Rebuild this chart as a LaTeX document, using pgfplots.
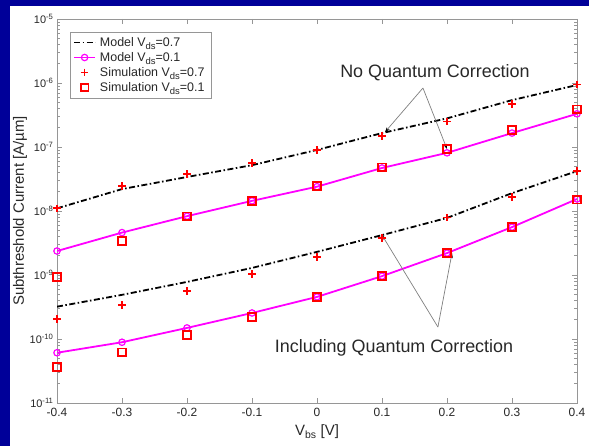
\documentclass[border=0pt]{standalone}
\usepackage{pgfplots}
\pgfplotsset{compat=1.18}
\usepackage{fontspec}
\setmainfont{Liberation Sans}
\usetikzlibrary{arrows.meta}
\definecolor{bgblue}{RGB}{0,0,153}
\definecolor{axgray}{RGB}{150,150,150}
\definecolor{txt}{RGB}{40,40,40}
\definecolor{mag}{RGB}{255,0,255}
\definecolor{rd}{RGB}{255,0,0}
\newcommand{\sub}[1]{\raisebox{-0.45ex}{\fontsize{9.5}{10}\selectfont #1}}
\begin{document}
\begin{tikzpicture}[x=1bp,y=1bp]
\fill[bgblue] (0,0) rectangle (589,446);
\fill[white] (10,0) rectangle (589,440);
\begin{axis}[
  at={(57bp,43bp)}, anchor=south west,
  scale only axis, width=520bp, height=384bp,
  ymode=log, xmin=-0.4, xmax=0.4, ymin=1e-11, ymax=1e-5,
  xtick={-0.4,-0.3,-0.2,-0.1,0,0.1,0.2,0.3,0.4},
  xticklabels={-0.4,-0.3,-0.2,-0.1,0,0.1,0.2,0.3,0.4},
  ytick={1e-11,1e-10,1e-9,1e-8,1e-7,1e-6,1e-5},
  yticklabels={10\textsuperscript{-11},10\textsuperscript{-10},10\textsuperscript{-9},10\textsuperscript{-8},10\textsuperscript{-7},10\textsuperscript{-6},10\textsuperscript{-5}},
  tick align=inside, major tick length=5bp, minor tick length=3bp,
  axis line style={axgray, line width=0.8bp}, tick style={axgray, line width=0.6bp},
  yticklabel style={font=\fontsize{11}{13}\selectfont, text=txt},
  xticklabel style={font=\fontsize{12}{14}\selectfont, text=txt, yshift=-1.5bp},
  xlabel={V\textsubscript{bs} [V]},
  ylabel={Subthreshold Current [A/\textmu m]},
  label style={font=\fontsize{15}{17}\selectfont, text=txt},
  xlabel style={at={(axis description cs:0.5,-0.075)}, anchor=center},
  ylabel style={at={(axis description cs:-0.071,0.5)}, anchor=center},
  legend style={at={(0.025,0.966)}, anchor=north west, draw=axgray, fill=white,
    font=\fontsize{12.5}{14}\selectfont, text=txt, row sep=0.5bp, inner sep=3bp,
    nodes={inner xsep=4bp}},
  legend cell align=left,
  legend image code/.code={\draw[mark repeat=2,mark phase=2,#1] plot coordinates {(0bp,0bp) (10.5bp,0bp) (21bp,0bp)};},
]
% Model Vds=0.7, no QC
\addplot[black, line width=1.8bp, dash pattern=on 6bp off 2.5bp on 1.5bp off 2.5bp] coordinates {
(-0.4,1.1e-8) (-0.3,2.2e-8) (-0.2,3.4e-8) (-0.1,5.2e-8) (0,9e-8) (0.1,1.65e-7) (0.2,2.8e-7) (0.3,5.4e-7) (0.4,9.3e-7)};
\addlegendentry{Model V\sub{ds}=0.7}
% Model Vds=0.1, no QC
\addplot[mag, line width=1.8bp, mark=o, mark size=3.2bp, mark options={solid, line width=1.2bp}] coordinates {
(-0.4,2.37e-9) (-0.3,4.6e-9) (-0.2,8.3e-9) (-0.1,1.44e-8) (0,2.4e-8) (0.1,4.7e-8) (0.2,8.1e-8) (0.3,1.65e-7) (0.4,3.3e-7)};
\addlegendentry{Model V\sub{ds}=0.1}
% Model Vds=0.7, QC
\addplot[black, line width=1.8bp, dash pattern=on 6bp off 2.5bp on 1.5bp off 2.5bp, forget plot] coordinates {
(-0.4,3.2e-10) (-0.3,4.9e-10) (-0.2,7.8e-10) (-0.1,1.29e-9) (0,2.3e-9) (0.1,4.2e-9) (0.2,7.8e-9) (0.3,1.9e-8) (0.4,4.2e-8)};
% Model Vds=0.1, QC
\addplot[mag, line width=1.8bp, mark=o, mark size=3.2bp, mark options={solid, line width=1.2bp}, forget plot] coordinates {
(-0.4,6.1e-11) (-0.3,8.9e-11) (-0.2,1.49e-10) (-0.1,2.55e-10) (0,4.55e-10) (0.1,9.6e-10) (0.2,2.2e-9) (0.3,5.6e-9) (0.4,1.54e-8)};
% Simulation Vds=0.7, no QC
\addplot[only marks, rd, mark=+, mark size=3.8bp, mark options={line width=1.8bp}] coordinates {
(-0.4,1.1e-8) (-0.3,2.45e-8) (-0.2,3.8e-8) (-0.1,5.6e-8) (0,9e-8) (0.1,1.5e-7) (0.2,2.5e-7) (0.3,4.7e-7) (0.4,9.5e-7)};
\addlegendentry{Simulation V\sub{ds}=0.7}
% Simulation Vds=0.1, no QC
\addplot[only marks, rd, mark=square, mark size=3.8bp, mark options={line width=1.7bp}] coordinates {
(-0.4,9.3e-10) (-0.3,3.4e-9) (-0.2,8.3e-9) (-0.1,1.44e-8) (0,2.45e-8) (0.1,4.8e-8) (0.2,9.3e-8) (0.3,1.85e-7) (0.4,3.9e-7)};
\addlegendentry{Simulation V\sub{ds}=0.1}
% Simulation Vds=0.7, QC
\addplot[only marks, rd, mark=+, mark size=3.8bp, mark options={line width=1.8bp}, forget plot] coordinates {
(-0.4,2.05e-10) (-0.3,3.4e-10) (-0.2,5.6e-10) (-0.1,1.04e-9) (0,1.9e-9) (0.1,3.8e-9) (0.2,7.9e-9) (0.3,1.65e-8) (0.4,4.2e-8)};
% Simulation Vds=0.1, QC
\addplot[only marks, rd, mark=square, mark size=3.8bp, mark options={line width=1.7bp}, forget plot] coordinates {
(-0.4,3.65e-11) (-0.3,6.2e-11) (-0.2,1.16e-10) (-0.1,2.2e-10) (0,4.55e-10) (0.1,9.6e-10) (0.2,2.2e-9) (0.3,5.6e-9) (0.4,1.5e-8)};
% annotations
\draw[gray, line width=0.7bp, -{Stealth[black,length=5bp,width=3.5bp]}] (axis cs:0.163,8.35e-7) -- (axis cs:0.1046,1.71e-7);
\draw[gray, line width=0.7bp, -{Stealth[black,length=5bp,width=3.5bp]}] (axis cs:0.163,8.35e-7) -- (axis cs:0.2,9.3e-8);
\draw[gray, line width=0.7bp, -{Stealth[black,length=5bp,width=3.5bp]}] (axis cs:0.186,1.54e-10) -- (axis cs:0.1,4.2e-9);
\draw[gray, line width=0.7bp, -{Stealth[black,length=5bp,width=3.5bp]}] (axis cs:0.186,1.54e-10) -- (axis cs:0.2077,2.2e-9);
\node[font=\fontsize{18}{20}\selectfont, text=txt] at (axis cs:0.1815,1.43e-6) {No Quantum Correction};
\node[font=\fontsize{18}{20}\selectfont, text=txt] at (axis cs:0.1185,7.2e-11) {Including Quantum Correction};
\end{axis}
\pgfresetboundingbox
\path[use as bounding box] (0,0) rectangle (589,446);
\end{tikzpicture}
\end{document}
